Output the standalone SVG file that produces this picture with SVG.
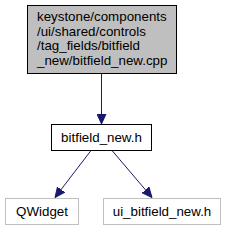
<svg xmlns="http://www.w3.org/2000/svg" width="226" height="231" viewBox="0 0 226 231">
<style>
text{font-family:"Liberation Sans",Arial,sans-serif;font-size:13.33px;fill:#000}
.c{text-anchor:middle}
.edge{stroke:#191970;stroke-width:1;fill:none}
</style>
<defs>
<marker id="ah" viewBox="0 0 10 10" refX="10" refY="5" markerWidth="10" markerHeight="10" markerUnits="userSpaceOnUse" orient="auto">
<path d="M0,0.5 L10,5 L0,9.5 Z" fill="#191970" stroke="#191970"/>
</marker>
</defs>
<g id="edges">
<path class="edge" d="M101.5,73.5 L101.5,124" marker-end="url(#ah)"/>
<path class="edge" d="M91,150.5 L55,197.5" marker-end="url(#ah)"/>
<path class="edge" d="M112,150.5 L152,197.5" marker-end="url(#ah)"/>
</g>
<g id="node1">
<rect x="27.5" y="5.5" width="149" height="68" fill="#bfbfbf" stroke="#000"/>
<text x="37" y="21">keystone/components</text>
<text x="37" y="35.5">/ui/shared/controls</text>
<text x="37" y="50">/tag_fields/bitfield</text>
<text x="37" y="64.5">_new/bitfield_new.cpp</text>
</g>
<g id="node2">
<rect x="51.5" y="124.5" width="100" height="26" fill="#fff" stroke="#000"/>
<text class="c" x="101.5" y="141.5">bitfield_new.h</text>
</g>
<g id="node3">
<rect x="5.5" y="198.5" width="73" height="26" fill="#fff" stroke="#bfbfbf"/>
<text class="c" x="42" y="215.5">QWidget</text>
</g>
<g id="node4">
<rect x="103.5" y="198.5" width="117" height="26" fill="#fff" stroke="#bfbfbf"/>
<text class="c" x="162" y="215.5">ui_bitfield_new.h</text>
</g>
</svg>
